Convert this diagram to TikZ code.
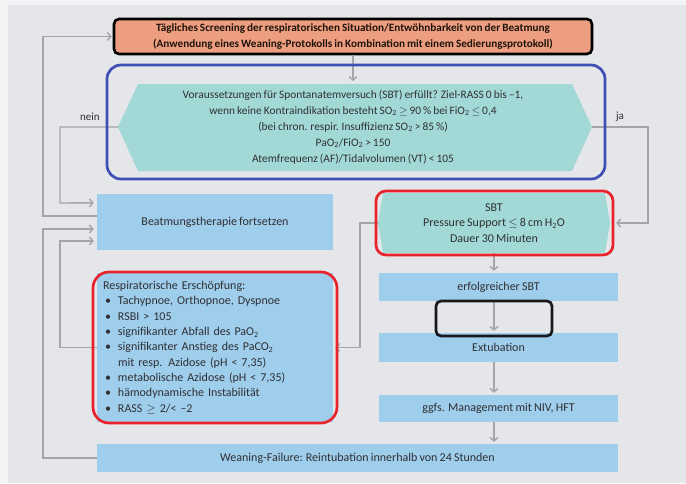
\documentclass[tikz,border=0pt]{standalone}
\usepackage{fontspec}
\setmainfont[WordSpace=0.8]{Carlito}
\usetikzlibrary{arrows.meta}

\definecolor{pagebg}{HTML}{F3F4F5}
\definecolor{panelbg}{HTML}{E4E6E9}
\definecolor{boxblue}{HTML}{9FCDEC}
\definecolor{hexteal}{HTML}{A2D9D6}
\definecolor{salmonfill}{HTML}{EE9E80}
\definecolor{arrgrey}{HTML}{A3A5A8}
\definecolor{outlineblue}{HTML}{3E50B4}
\definecolor{outlinered}{HTML}{E8232B}
\definecolor{txt}{HTML}{2F3033}

\newcommand{\bul}{\makebox[15pt][l]{\hspace{2pt}\textbullet}}
\newcommand{\sub}[1]{\textsubscript{#1}}

\tikzset{
  bluebox/.style={fill=boxblue, draw=none, inner sep=0pt, text=txt,
    font=\fontsize{12}{15.5}\selectfont, align=center},
  conn/.style={draw=arrgrey, line width=1.4pt,
    -{Straight Barb[length=3.5pt,width=8pt]}},
  mark outline/.style={line width=2.7pt, rounded corners=#1},
  lbl/.style={text=txt, font=\fontsize{11}{12}\selectfont, inner sep=0pt}
}

\begin{document}
\begin{tikzpicture}[x=1pt, y=-1pt]
  % page and panel
  \fill[pagebg] (0,0) rectangle (686,483);
  \fill[panelbg] (8,5) rectangle (686,483);
  \useasboundingbox (0,0) rectangle (686,483);

  % top screening box
  \node[fill=salmonfill, draw=black, line width=2.6pt, rounded corners=5pt,
        minimum width=478pt, minimum height=35pt, inner sep=0pt,
        text=black!85!brown, align=center,
        font=\bfseries\fontsize{11.2}{16.5}\selectfont] (top) at (353,36.5)
    {Tägliches Screening der respiratorischen Situation/Entwöhnbarkeit von der Beatmung\\
     (Anwendung eines Weaning-Protokolls in Kombination mit einem Sedierungsprotokoll)};

  % decision hexagon
  \coordinate (hexL) at (118,127);
  \coordinate (hexR) at (592,127);
  \coordinate (hexTop) at (353,84);
  \fill[hexteal] (hexL) -- (138,84) -- (572,84) -- (hexR) -- (572,171) -- (138,171) -- cycle;
  \node[text=txt, align=center, inner sep=0pt,
        font=\fontsize{11.4}{16}\selectfont] (hex) at (353,127)
    {Voraussetzungen für Spontanatemversuch (SBT) erfüllt? Ziel-RASS 0 bis –1,\\
     wenn keine Kontraindikation besteht SO\sub{2} $\geq$ 90\,\% bei FiO\sub{2} $\leq$ 0,4\\
     (bei chron. respir. Insuffizienz SO\sub{2} > 85\,\%)\\
     PaO\sub{2}/FiO\sub{2} > 150\\
     Atemfrequenz (AF)/Tidalvolumen (VT) < 105};
  \node[lbl] (nein) at (90,117) {nein};
  \node[lbl] (ja) at (620,117) {ja};

  % SBT box
  \fill[hexteal] (378,223) -- (383,193) -- (605,193) -- (610,223) -- (605,253) -- (383,253) -- cycle;
  \node[text=txt, align=center, inner sep=0pt, minimum width=232pt, minimum height=60pt,
        font=\fontsize{12}{15.5}\selectfont] (sbt) at (494,223)
    {SBT\\ Pressure Support $\leq$ 8 cm H\sub{2}O\\ Dauer 30 Minuten};

  % left column
  \node[bluebox, minimum width=236pt, minimum height=56pt] (beat) at (215,222)
    {Beatmungstherapie fortsetzen};
  \node[bluebox, minimum width=236pt, minimum height=149pt, text width=224pt,
        align=left, font=\fontsize{12}{15.3}\selectfont] (resp) at (215,347.5)
    {Respiratorische Erschöpfung:\\
     \bul Tachypnoe, Orthopnoe, Dyspnoe\\
     \bul RSBI > 105\\
     \bul signifikanter Abfall des PaO\sub{2}\\
     \bul signifikanter Anstieg des PaCO\sub{2}\\
     \hspace*{15pt}mit resp. Azidose (pH < 7,35)\\
     \bul metabolische Azidose (pH < 7,35)\\
     \bul hämodynamische Instabilität\\
     \bul RASS $\geq$ 2/< –2};

  % right column
  \node[bluebox, minimum width=239pt, minimum height=28pt] (erf) at (498.5,287)
    {erfolgreicher SBT};
  \node[bluebox, minimum width=239pt, minimum height=29pt] (ext) at (498.5,347.5)
    {Extubation};
  \node[bluebox, minimum width=239pt, minimum height=27pt] (ggfs) at (498.5,408.5)
    {ggfs. Management mit NIV, HFT};

  % bottom
  \node[bluebox, minimum width=521pt, minimum height=28pt] (fail) at (357.5,458)
    {Weaning-Failure: Reintubation innerhalb von 24 Stunden};

  % connectors
  \draw[conn, shorten >=3pt] (top.south) -- (hexTop);
  \draw[conn, shorten >=3pt] (hexL) -- (60,127) -- (60,203) -- ([yshift=-9pt]beat.north west);
  \draw[conn, shorten >=1pt] ([yshift=6pt]beat.west) -- (43,216) -- (43,36.5) -- (top.west);
  \draw[conn, shorten >=3pt] (fail.west) -- (43,458) -- (43,229) -- ([yshift=-7pt]beat.west);
  \draw[conn, shorten >=3pt] (resp.west) -- (60,347.5) -- (60,241) -- ([yshift=-19pt]beat.west);
  \draw[conn, shorten >=6pt] (hexR) -- (648,127) -- (648,223) -- (sbt.east);
  \draw[conn, shorten >=2pt] (sbt.west) -- (360,223) -- (360,347.5) -- (resp.east);
  \draw[conn, shorten >=2pt] (sbt.south) -- (sbt.south |- erf.north);
  \draw[conn, shorten >=2pt] (sbt.south |- erf.south) -- (sbt.south |- ext.north);
  \draw[conn, shorten >=2pt] (sbt.south |- ext.south) -- (sbt.south |- ggfs.north);
  \draw[conn, shorten >=2pt] (sbt.south |- ggfs.south) -- (sbt.south |- fail.north);

  % highlight outlines
  \draw[outlineblue, mark outline=14pt] (107,65) rectangle (605,179);
  \draw[outlinered, mark outline=10pt] (376,191) rectangle (613,255);
  \draw[outlinered, mark outline=16pt] (93,272) rectangle (337,423);
  \draw[black!90, mark outline=5pt] (436,301) rectangle (552,336);
\end{tikzpicture}
\end{document}
